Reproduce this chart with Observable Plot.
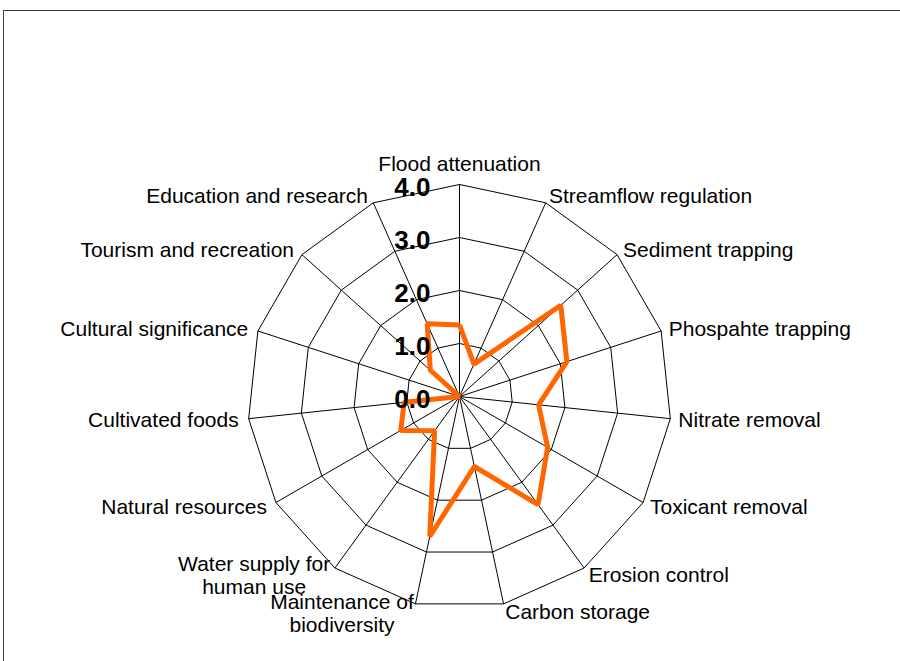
<!DOCTYPE html>
<html><head><meta charset="utf-8">
<script src="https://cdn.jsdelivr.net/npm/d3@7"></script>
<script src="https://cdn.jsdelivr.net/npm/@observablehq/plot@0.6"></script>
<style>
html,body{margin:0;padding:0;background:#fff;overflow:hidden;width:900px;height:661px;}
#frame{position:absolute;left:3px;top:10px;width:1000px;height:1000px;border-top:1px solid #404040;border-left:1px solid #404040;}
#chart{position:absolute;left:0;top:0;}
</style></head><body>
<div id="frame"></div>
<div id="chart"></div>
<script>
const categories = [
  "Flood attenuation", "Streamflow regulation", "Sediment trapping", "Phospahte trapping",
  "Nitrate removal", "Toxicant removal", "Erosion control", "Carbon storage",
  "Maintenance of\nbiodiversity", "Water supply for\nhuman use", "Natural resources",
  "Cultivated foods", "Cultural significance", "Tourism and recreation", "Education and research"
];
const values = [1.35, 0.67, 2.57, 2.13, 1.5, 1.92, 2.52, 1.35, 2.7, 0.8, 1.28, 1.05, 0, 0.74, 1.5];
const ticks = [0, 1, 2, 3, 4];
const tickLabels = ["0.0", "1.0", "2.0", "3.0", "4.0"];

const W = 900, H = 661, CX = 459, CY = 396, K = 53;
const maxValue = d3.max(ticks);
const n = categories.length;
const ang = i => 2 * Math.PI * i / n;
const pt = (i, v) => ({x: v * Math.sin(ang(i)), y: v * Math.cos(ang(i))});

const rings = ticks.filter(t => t > 0).flatMap(t => d3.range(n + 1).map(i => ({ring: t, ...pt(i % n, t)})));
const spokes = categories.map((c, i) => { const p = pt(i, maxValue); return {x1: 0, y1: 0, x2: p.x, y2: p.y}; });
const series = d3.range(n + 1).map(i => pt(i % n, values[i % n]));
const tickData = ticks.map((t, i) => ({v: t, label: tickLabels[i]}));

const LABEL_FONT = 21;
const ctx = document.createElement("canvas").getContext("2d");
ctx.font = `${LABEL_FONT}px 'Liberation Sans', Arial, sans-serif`;
const lab = categories.map((c, i) => {
  const p = pt(i, maxValue + 8 / K);
  const s = Math.sin(ang(i));
  const side = Math.abs(s) < 1e-6 ? "top" : (s > 0 ? "right" : "left");
  const lines = c.split("\n");
  const w = d3.max(lines, l => ctx.measureText(l).width);
  return {text: c, x: p.x, y: p.y, side, multi: lines.length > 1, w};
});
const labTop = lab.filter(d => d.side === "top");
const labRight = lab.filter(d => d.side === "right");
const labLeftSingle = lab.filter(d => d.side === "left" && !d.multi);
const labLeftMulti = lab.filter(d => d.side === "left" && d.multi).map(d => ({...d, x: d.x - d.w / 2 / K}));

const chart = Plot.plot({
  width: W, height: H, margin: 0,
  x: {domain: [-CX / K, (W - CX) / K], range: [0, W], axis: null},
  y: {domain: [-(H - CY) / K, CY / K], range: [H, 0], axis: null},
  style: {fontFamily: "'Liberation Sans', Arial, sans-serif", background: "transparent", overflow: "visible"},
  marks: [
    Plot.line(rings, {x: "x", y: "y", z: "ring", stroke: "#000", strokeWidth: 1, strokeLinejoin: "miter"}),
    Plot.link(spokes, {x1: "x1", y1: "y1", x2: "x2", y2: "y2", stroke: "#000", strokeWidth: 1}),
    Plot.line(series, {x: "x", y: "y", stroke: "#FF6600", strokeWidth: 5, strokeLinejoin: "miter", strokeLinecap: "butt"}),
    Plot.text(tickData, {x: () => 0, y: "v", text: "label", textAnchor: "end", dx: -29, dy: 3, fontSize: 26, fontWeight: "bold", fill: "#000"}),
    Plot.text(labTop, {x: "x", y: "y", text: "text", textAnchor: "middle", lineAnchor: "bottom", dy: -6, fontSize: LABEL_FONT, fill: "#000"}),
    Plot.text(labRight, {x: "x", y: "y", text: "text", textAnchor: "start", lineAnchor: "middle", dy: 1, fontSize: LABEL_FONT, fill: "#000"}),
    Plot.text(labLeftSingle, {x: "x", y: "y", text: "text", textAnchor: "end", lineAnchor: "middle", dx: -2, dy: 1, fontSize: LABEL_FONT, fill: "#000"}),
    Plot.text(labLeftMulti, {x: "x", y: "y", text: "text", textAnchor: "middle", lineAnchor: "middle", lineHeight: 1.1, dy: 1, fontSize: LABEL_FONT, fill: "#000"})
  ]
});
document.getElementById("chart").appendChild(chart);
</script>
</body></html>
